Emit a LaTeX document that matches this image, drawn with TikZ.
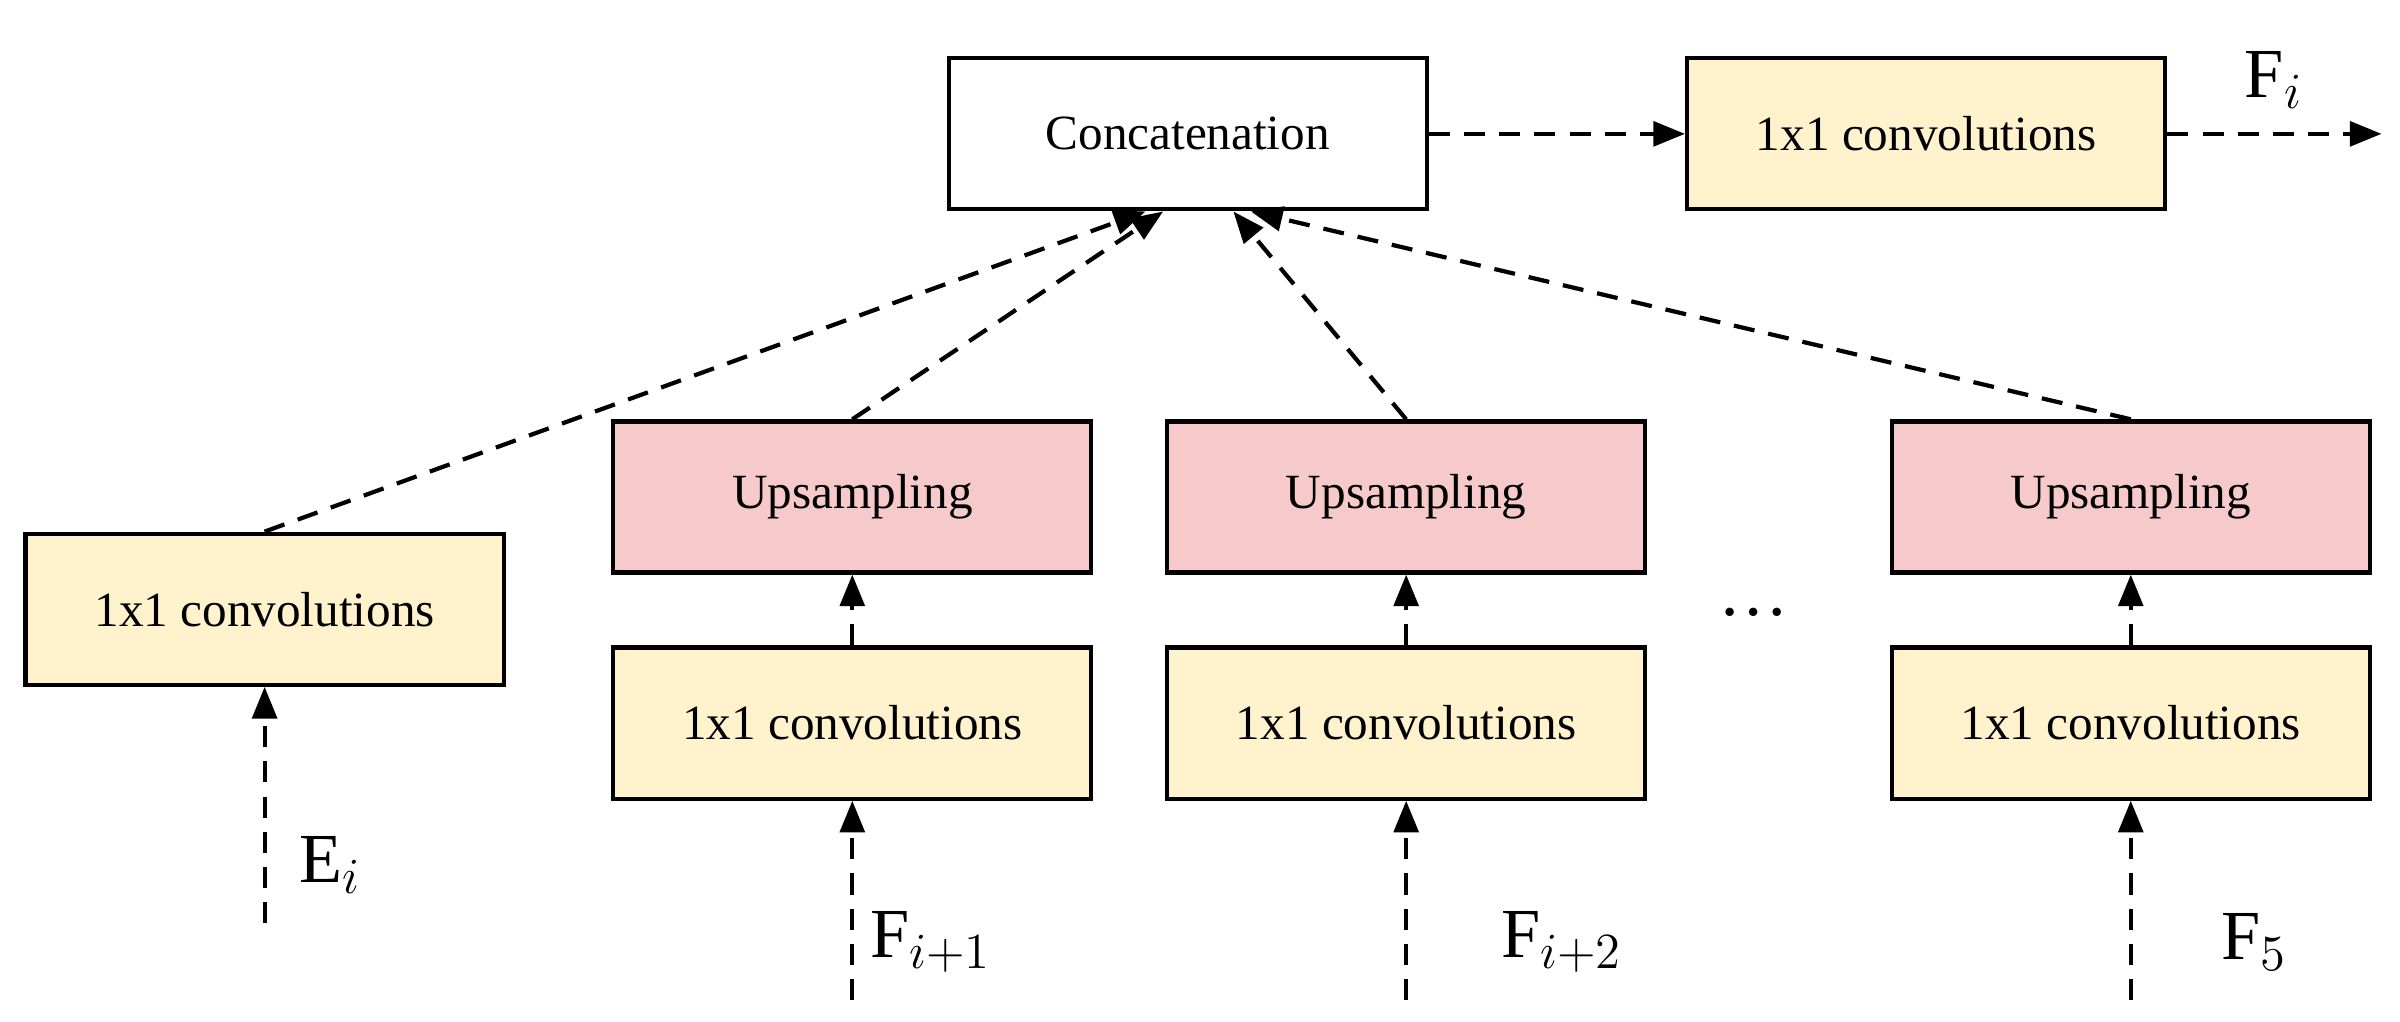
\documentclass[tikz,border=0pt]{standalone}
\usepackage{fontspec}
\setmainfont{Liberation Serif}
\usetikzlibrary{arrows.meta}
\definecolor{convyellow}{HTML}{FFF2CC}
\definecolor{uppink}{HTML}{F6CACB}
\tikzset{
  blk/.style={draw,line width=1.2pt,minimum width=4.78cm,minimum height=1.51cm,font=\fontsize{14}{16}\selectfont},
  conv/.style={blk,fill=convyellow},
  ups/.style={blk,fill=uppink},
  flow/.style={dashed,line width=1.2pt,dash pattern=on 6pt off 4pt,-{Triangle[length=9pt,width=7pt]}},
  lbl/.style={font=\fontsize{20}{22}\selectfont}
}
\begin{document}
\begin{tikzpicture}[x=0.01538cm,y=-0.01538cm]
  \useasboundingbox (0,0) rectangle (1560,664);
  % top row
  \node[blk] (cat) at (772,87) {Concatenation};
  \node[conv] (out) at (1252,87) {1x1 convolutions};
  \coordinate (fout) at (1548,87);
  \node[lbl] (fi) at (1478,52) {F$_i$};
  % encoder branch
  \node[conv] (ce) at (172,396) {1x1 convolutions};
  \coordinate (ein) at (172,600);
  \node[lbl] (ei) at (215,562) {E$_i$};
  % decoder branches
  \node[ups] (u1) at (554,323) {Upsampling};
  \node[conv] (c1) at (554,470) {1x1 convolutions};
  \coordinate (in1) at (554,650);
  \node[lbl] (f1) at (605,612) {F$_{i+1}$};
  \node[ups] (u2) at (914,323) {Upsampling};
  \node[conv] (c2) at (914,470) {1x1 convolutions};
  \coordinate (in2) at (914,650);
  \node[lbl] (f2) at (1015,612) {F$_{i+2}$};
  \node[ups] (u3) at (1385,323) {Upsampling};
  \node[conv] (c3) at (1385,470) {1x1 convolutions};
  \coordinate (in3) at (1385,650);
  \node[lbl] (f3) at (1465,612) {F$_5$};
  \node[lbl] (dots) at (1140,398) {\dots};
  % connectors
  \draw[flow] (cat) -- (out);
  \draw[flow] (out) -- (fout);
  \draw[flow] (ein) -- (ce);
  \draw[flow] (in1) -- (c1);
  \draw[flow] (in2) -- (c2);
  \draw[flow] (in3) -- (c3);
  \draw[flow] (c1) -- (u1);
  \draw[flow] (c2) -- (u2);
  \draw[flow] (c3) -- (u3);
  \draw[flow] (ce.north) -- ([xshift=-12]cat.south);
  \draw[flow] (u1.north) -- ([xshift=-7]cat.south);
  \draw[flow] (u2.north) -- ([xshift=13]cat.south);
  \draw[flow] (u3.north) -- ([xshift=18]cat.south);
\end{tikzpicture}
\end{document}
